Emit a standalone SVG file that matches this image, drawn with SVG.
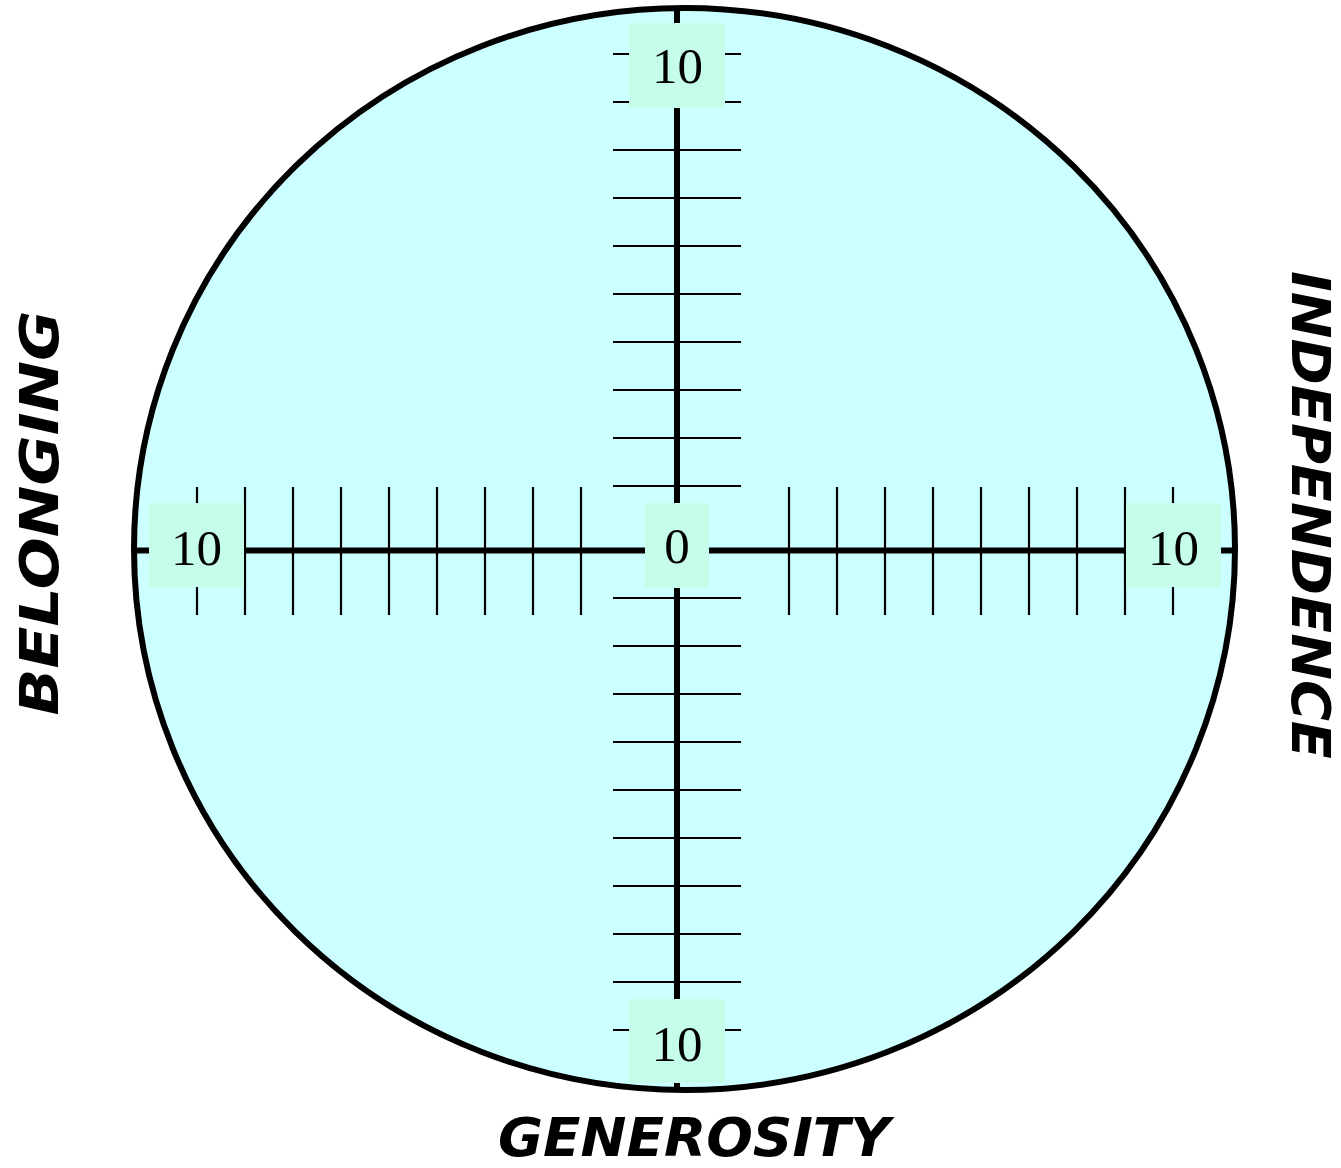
<svg xmlns="http://www.w3.org/2000/svg" width="1341" height="1168" viewBox="0 0 1341 1168">
<defs>
<style>
.tick{stroke:#000;stroke-width:2.2;fill:none}
.axis{stroke:#000;stroke-width:6;fill:none}
.box{fill:#c6fcea;stroke:none}
.num{font-family:"Liberation Serif","Times New Roman",serif;font-size:51px;fill:#000;text-anchor:middle}
.lab{font-family:"DejaVu Sans",Verdana,sans-serif;font-weight:bold;font-style:italic;font-size:53px;fill:#000;text-anchor:middle}
</style>
</defs>
<rect width="1341" height="1168" fill="#fff"/>
<g id="circle">
<ellipse cx="684.5" cy="549" rx="550.5" ry="541" fill="#ccffff" stroke="#000" stroke-width="6"/>
</g>
<g id="connectors">
<g id="hticks" class="tick">
<line x1="197" y1="487" x2="197" y2="615"/>
<line x1="245" y1="487" x2="245" y2="615"/>
<line x1="293" y1="487" x2="293" y2="615"/>
<line x1="341" y1="487" x2="341" y2="615"/>
<line x1="389" y1="487" x2="389" y2="615"/>
<line x1="437" y1="487" x2="437" y2="615"/>
<line x1="485" y1="487" x2="485" y2="615"/>
<line x1="533" y1="487" x2="533" y2="615"/>
<line x1="581" y1="487" x2="581" y2="615"/>
<line x1="789" y1="487" x2="789" y2="615"/>
<line x1="837" y1="487" x2="837" y2="615"/>
<line x1="885" y1="487" x2="885" y2="615"/>
<line x1="933" y1="487" x2="933" y2="615"/>
<line x1="981" y1="487" x2="981" y2="615"/>
<line x1="1029" y1="487" x2="1029" y2="615"/>
<line x1="1077" y1="487" x2="1077" y2="615"/>
<line x1="1125" y1="487" x2="1125" y2="615"/>
<line x1="1173" y1="487" x2="1173" y2="615"/>
</g>
<g id="vticks" class="tick">
<line x1="613" y1="54" x2="741" y2="54"/>
<line x1="613" y1="102" x2="741" y2="102"/>
<line x1="613" y1="150" x2="741" y2="150"/>
<line x1="613" y1="198" x2="741" y2="198"/>
<line x1="613" y1="246" x2="741" y2="246"/>
<line x1="613" y1="294" x2="741" y2="294"/>
<line x1="613" y1="342" x2="741" y2="342"/>
<line x1="613" y1="390" x2="741" y2="390"/>
<line x1="613" y1="438" x2="741" y2="438"/>
<line x1="613" y1="486" x2="741" y2="486"/>
<line x1="613" y1="598" x2="741" y2="598"/>
<line x1="613" y1="646" x2="741" y2="646"/>
<line x1="613" y1="694" x2="741" y2="694"/>
<line x1="613" y1="742" x2="741" y2="742"/>
<line x1="613" y1="790" x2="741" y2="790"/>
<line x1="613" y1="838" x2="741" y2="838"/>
<line x1="613" y1="886" x2="741" y2="886"/>
<line x1="613" y1="934" x2="741" y2="934"/>
<line x1="613" y1="982" x2="741" y2="982"/>
<line x1="613" y1="1030" x2="741" y2="1030"/>
</g>
<line class="axis" x1="134" y1="550.5" x2="1235" y2="550.5"/>
<line class="axis" x1="677" y1="8" x2="677" y2="1090"/>
</g>
<g id="label-top">
<rect class="box" x="629" y="23" width="96" height="85"/>
<text class="num" x="677.5" y="83">10</text>
</g>
<g id="label-left">
<rect class="box" x="149" y="503" width="95" height="84"/>
<text class="num" x="196.5" y="565">10</text>
</g>
<g id="label-center">
<rect class="box" x="645" y="503" width="64" height="85"/>
<text class="num" x="677" y="563">0</text>
</g>
<g id="label-right">
<rect class="box" x="1126" y="503" width="95" height="84"/>
<text class="num" x="1173.5" y="565">10</text>
</g>
<g id="label-bottom">
<rect class="box" x="629" y="999" width="96" height="84"/>
<text class="num" x="677" y="1061">10</text>
</g>
<g id="axis-generosity">
<text class="lab" x="694" y="1156" textLength="392" lengthAdjust="spacingAndGlyphs">GENEROSITY</text>
</g>
<g id="axis-belonging">
<text class="lab" transform="translate(58,513) rotate(-90)" x="0" y="0" textLength="405" lengthAdjust="spacingAndGlyphs">BELONGING</text>
</g>
<g id="axis-independence">
<text class="lab" transform="translate(1292,515) rotate(90)" x="0" y="0" textLength="488" lengthAdjust="spacingAndGlyphs">INDEPENDENCE</text>
</g>
</svg>
